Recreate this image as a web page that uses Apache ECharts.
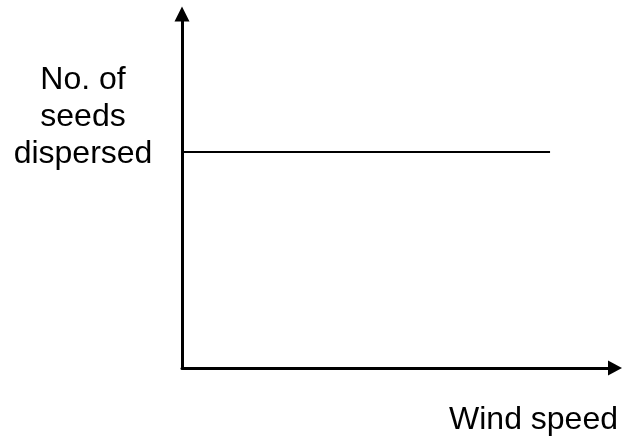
<!DOCTYPE html>
<html>
<head>
<meta charset="utf-8">
<script src="https://cdn.jsdelivr.net/npm/echarts@6/dist/echarts.min.js"></script>
<style>
  html, body { margin: 0; padding: 0; background: #fff; }
  #chart { width: 622px; height: 443px; }
</style>
</head>
<body>
<div id="chart"></div>
<script>
// level line (no. of seeds stays constant as wind speed increases)
var lineX = [0, 8.5];
var lineY = [6.1, 6.1];
var yLabel = "No. of\nseeds\ndispersed";
var xLabel = "Wind speed";

var chart = echarts.init(document.getElementById("chart"));

var axisStyle = {
  show: true,
  symbol: ["none", "triangle"],
  lineStyle: { color: "#000", width: 3 },
};

var option = {
  backgroundColor: "#fff",
  animation: false,
  grid: { left: 182, right: 7, top: 14, bottom: 75 },
  xAxis: {
    type: "value",
    min: 0,
    max: 10,
    axisLine: Object.assign({}, axisStyle, { symbolSize: [15, 14] }),
    axisTick: { show: false },
    axisLabel: { show: false },
    splitLine: { show: false },
  },
  yAxis: {
    type: "value",
    min: 0,
    max: 10,
    axisLine: Object.assign({}, axisStyle, { symbolSize: [15, 15] }),
    axisTick: { show: false },
    axisLabel: { show: false },
    splitLine: { show: false },
  },
  series: [
    {
      type: "line",
      data: lineX.map(function (x, i) {
        return [x, lineY[i]];
      }),
      symbol: "none",
      lineStyle: { color: "#000", width: 2 },
    },
  ],
  graphic: [
    {
      type: "text",
      x: 83,
      y: 62,
      style: {
        text: yLabel,
        align: "center",
        verticalAlign: "top",
        font: "32px 'Liberation Sans', Arial, sans-serif",
        lineHeight: 37,
        fill: "#000",
      },
    },
    {
      type: "text",
      x: 618,
      y: 404,
      style: {
        text: xLabel,
        align: "right",
        verticalAlign: "top",
        font: "32px 'Liberation Sans', Arial, sans-serif",
        fill: "#000",
      },
    },
  ],
};

chart.setOption(option);
window.onresize = chart.resize;
</script>
</body>
</html>
